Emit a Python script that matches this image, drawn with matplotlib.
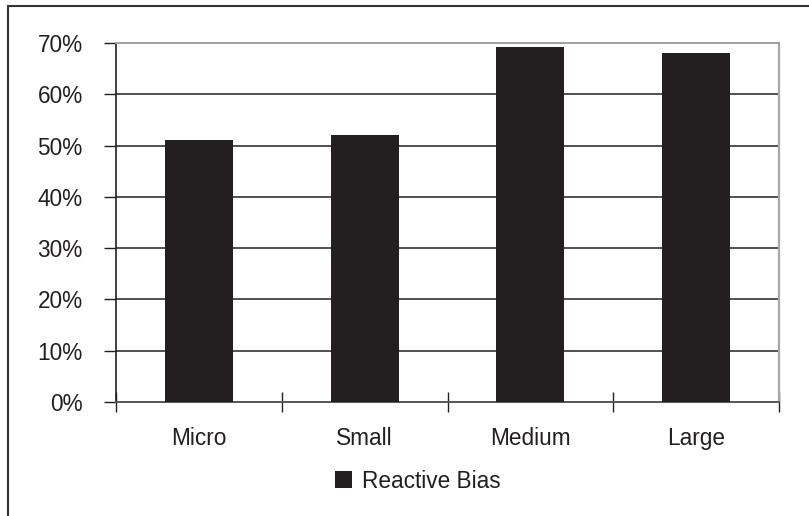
import numpy as np
import matplotlib
matplotlib.use("Agg")
import matplotlib.pyplot as plt
from matplotlib.patches import Rectangle

# data
categories = ["Micro", "Small", "Medium", "Large"]
reactive_bias = [51.0, 52.0, 69.2, 68.0]
y_ticks = [0, 10, 20, 30, 40, 50, 60, 70]
series_name = "Reactive Bias"

plt.rcParams['font.family'] = ['Liberation Sans', 'DejaVu Sans']
BAR = '#231f20'
FS = 16.3

fig = plt.figure(figsize=(8.09, 5.16), dpi=100)
ax = fig.add_axes([116/809, 1 - 402/516, (779 - 116)/809, (402 - 43)/516])

x = np.arange(len(categories))
ax.bar(x, reactive_bias, width=0.41, color=BAR, label=series_name, zorder=3)

ax.set_xlim(-0.5, len(categories) - 0.5)
ax.set_ylim(0, 70)

# y axis
ax.set_yticks(y_ticks)
ax.set_yticklabels(["%d%%" % v for v in y_ticks], fontsize=FS, color='#231f20')
ax.tick_params(axis='y', direction='out', length=9, width=1, pad=15, color='#231f20')
for v in y_ticks[1:-1]:
    ax.axhline(v, color='#231f20', lw=1.1, zorder=1)

# x axis: ticks at bin boundaries, labels at centers
ax.set_xticks(np.arange(-0.5, len(categories), 1.0))
ax.set_xticklabels([])
ax.tick_params(axis='x', which='major', direction='inout', length=15, width=1, color='#231f20')
ax.set_xticks(x, minor=True)
ax.set_xticklabels(categories, minor=True, fontsize=FS, color='#231f20')
ax.tick_params(axis='x', which='minor', length=0, pad=18)

ax.spines['left'].set_color('#231f20')
ax.spines['left'].set_linewidth(1.2)
ax.spines['bottom'].set_color('#555555')
ax.spines['bottom'].set_linewidth(1.4)
ax.spines['top'].set_color('#a0a0a0')
ax.spines['top'].set_linewidth(1.4)
ax.spines['right'].set_color('#a8a8a8')
ax.spines['right'].set_linewidth(1.6)

# legend
leg = fig.legend(loc='center', bbox_to_anchor=(418/809, 1 - 481/516), frameon=False,
                 fontsize=FS, handlelength=0.75, handleheight=0.75, handletextpad=0.45)
for t in leg.get_texts():
    t.set_color('#231f20')

# outer chart border (cropped on right/bottom)
fig.patches.append(Rectangle((8/809, -0.1), 1.2, 1 - 6/516 + 0.1, transform=fig.transFigure,
                             fill=False, edgecolor='#333333', lw=1.5))

fig.savefig("out.png", dpi=100)
